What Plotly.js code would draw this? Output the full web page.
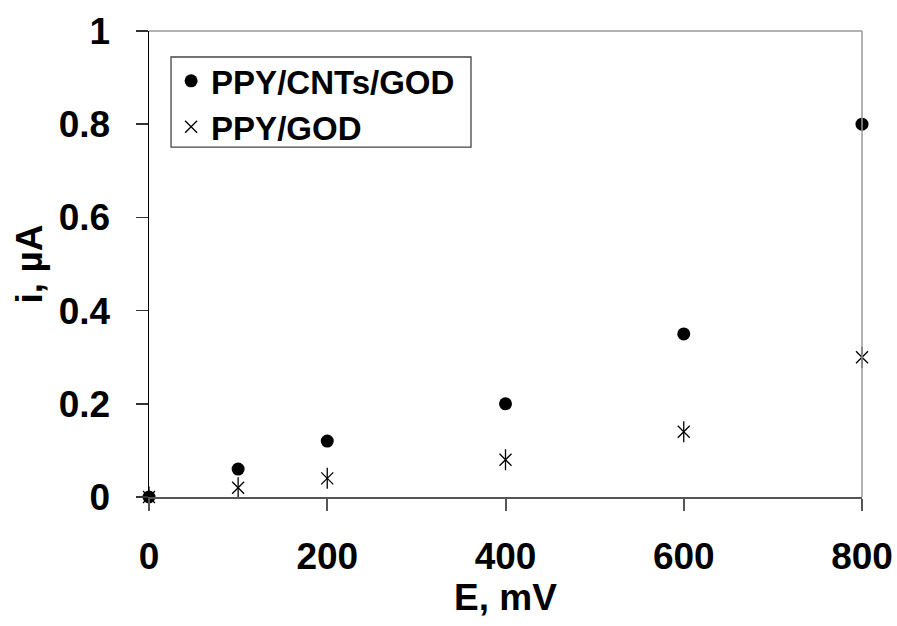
<!DOCTYPE html>
<html>
<head>
<meta charset="utf-8">
<script src="https://cdn.plot.ly/plotly-3.0.1.min.js"></script>
<style>html,body{margin:0;padding:0;background:#fff;}#chart{width:897px;height:626px;}</style>
</head>
<body>
<div id="chart"></div>
<script>
const potentialMV = [0, 100, 200, 400, 600, 800];
const currentCNT = [0, 0.06, 0.12, 0.2, 0.35, 0.8];
const currentPPY = [0, 0.02, 0.04, 0.08, 0.14, 0.3];
const seriesNames = ["PPY/CNTs/GOD", "PPY/GOD"];
const xTicks = [0, 200, 400, 600, 800];
const yTicks = [0, 0.2, 0.4, 0.6, 0.8, 1];
const yTickText = ["0", "0.2", "0.4", "0.6", "0.8", "1"];

const fontFam = "Liberation Sans, Arial, sans-serif";

const traces = [
  {
    x: potentialMV, y: currentCNT, name: seriesNames[0], mode: "markers", type: "scatter",
    cliponaxis: false,
    marker: {symbol: "circle", size: 13, color: "#000"}
  },
  {
    x: potentialMV, y: currentPPY, name: seriesNames[1], mode: "markers", type: "scatter",
    cliponaxis: false,
    marker: {symbol: "x-thin-open", size: 12, color: "#000", line: {width: 1.3, color: "#000"}}
  },
  {
    x: potentialMV, y: currentPPY, name: seriesNames[1], mode: "markers", type: "scatter",
    cliponaxis: false, showlegend: false,
    marker: {symbol: "line-ns-open", size: 15, color: "#000", line: {width: 1.3, color: "#000"}}
  }
];

const layout = {
  width: 897, height: 626,
  margin: {l: 149, r: 35, t: 31, b: 129},
  paper_bgcolor: "#fff", plot_bgcolor: "#fff",
  showlegend: true,
  font: {family: fontFam, color: "#000"},
  xaxis: {
    range: [0, 800], tickvals: xTicks, ticktext: xTicks.map(String),
    showgrid: false, zeroline: false,
    showline: true, linecolor: "#555", linewidth: 2,
    ticks: "outside", ticklen: 12, tickcolor: "#555", tickwidth: 2,
    ticklabelstandoff: 14,
    tickfont: {family: fontFam, size: 37, weight: "bold", color: "#000"},
    title: {text: "<b>E, mV</b>", font: {family: fontFam, size: 37, color: "#000"}, standoff: 6}
  },
  yaxis: {
    range: [0, 1], tickvals: yTicks, ticktext: yTickText,
    showgrid: false, zeroline: false,
    showline: true, linecolor: "#000", linewidth: 1.5,
    ticks: "outside", ticklen: 12, tickcolor: "#333", tickwidth: 1.5,
    ticklabelstandoff: 18,
    tickfont: {family: fontFam, size: 37, weight: "bold", color: "#000"},
    title: {text: "<b>i, µA</b>", font: {family: fontFam, size: 37, color: "#000"}, standoff: 4}
  },
  legend: {
    x: 0.031, y: 0.953, xanchor: "left", yanchor: "top",
    bgcolor: "rgba(0,0,0,0)", borderwidth: 0,
    font: {family: fontFam, size: 33, weight: "bold", color: "#000"},
    tracegroupgap: 0, itemsizing: "trace"
  },
  shapes: [
    {type: "rect", xref: "paper", yref: "paper", x0: 0.0309, x1: 0.4516, y0: 0.751, y1: 0.9442,
     line: {color: "#444", width: 1.3}, fillcolor: "#fff", layer: "below"},
    {type: "line", xref: "paper", yref: "paper", x0: 0, x1: 1, y0: 1, y1: 1, line: {color: "#999", width: 1.5}},
    {type: "line", xref: "paper", yref: "paper", x0: 1, x1: 1, y0: 0, y1: 1, line: {color: "#999", width: 1.5}}
  ]
};

Plotly.newPlot("chart", traces, layout, {displayModeBar: false, staticPlot: true});
</script>
</body>
</html>
